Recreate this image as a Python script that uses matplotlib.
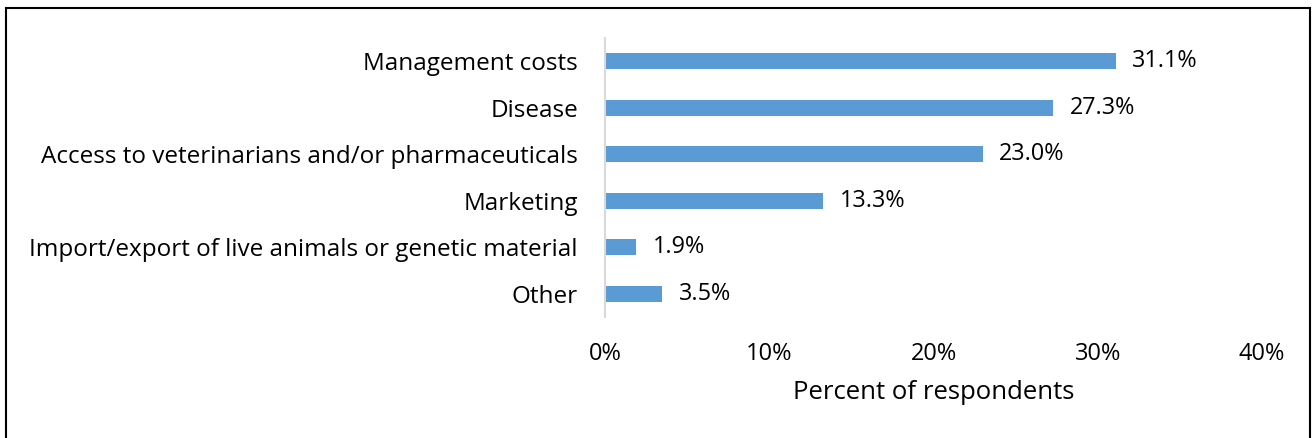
import matplotlib.pyplot as plt
from matplotlib.patches import Rectangle

categories = ["Management costs", "Disease", "Access to veterinarians and/or pharmaceuticals",
              "Marketing", "Import/export of live animals or genetic material", "Other"]
values = [31.1, 27.3, 23.0, 13.3, 1.9, 3.5]
xticks = [0, 10, 20, 30, 40]
xlabel = "Percent of respondents"

plt.rcParams['font.family'] = ['Open Sans', 'DejaVu Sans']

W, H = 1312, 438
fig = plt.figure(figsize=(W/100, H/100), dpi=100)
ax = fig.add_axes([605/W, 1-317/H, (1262-605)/W, (317-38)/H])

y = list(range(len(categories)))
ax.barh(y, values, height=0.345, color="#5B9BD5")
ax.set_ylim(len(categories)-0.5, -0.5)
ax.set_xlim(0, 40)
ax.set_yticks(y)
ax.set_yticklabels(categories, fontsize=17.5, color="#000000")
ax.set_xticks(xticks)
ax.set_xticklabels([f"{t}%" for t in xticks], fontsize=17)
ax.tick_params(axis='both', length=0)
ax.tick_params(axis='y', pad=19.5)
ax.tick_params(axis='x', pad=18)
for s in ["top", "right", "bottom"]:
    ax.spines[s].set_visible(False)
ax.spines["left"].set_color("#D9D9D9")
ax.spines["left"].set_linewidth(1.5)

for yi, v in zip(y, values):
    ax.text(v + 1.0, yi, f"{v:.1f}%", va="center", ha="left", fontsize=16.8)

ax.set_xlabel(xlabel, fontsize=18.5, labelpad=10)

fig.patches.append(Rectangle((6/W, -2/H), (1310-6)/W, (430+2)/H, transform=fig.transFigure,
                             fill=False, edgecolor="black", linewidth=1.5))
fig.savefig("out.png", dpi=100)
